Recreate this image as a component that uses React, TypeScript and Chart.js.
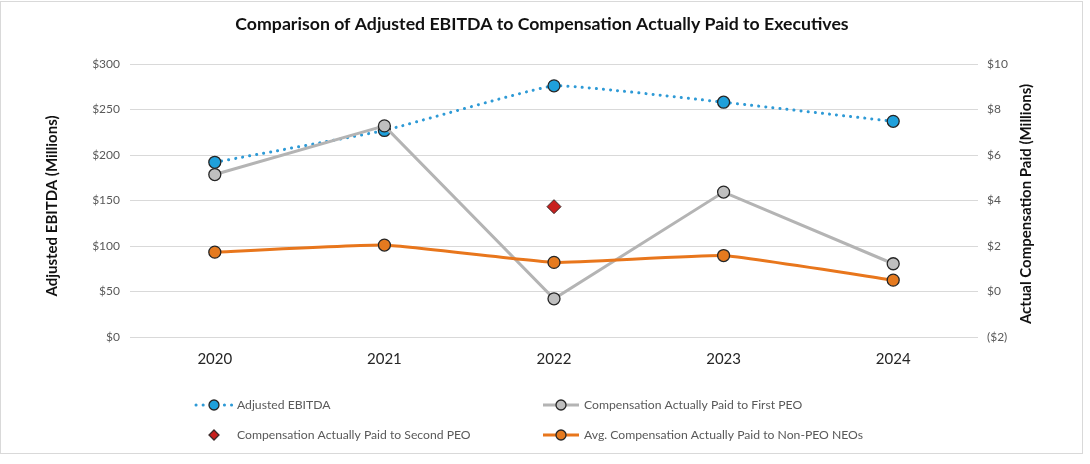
import React, { useEffect, useRef } from "react";
import { Chart, registerables } from "chart.js";

Chart.register(...registerables);

const years = ["2020", "2021", "2022", "2023", "2024"];
const adjustedEbitda = [192, 227, 276, 258, 237];
const firstPeoCap = [5.14, 7.28, -0.32, 4.37, 1.22];
const secondPeoCap = [null, null, 3.73, null, null];
const nonPeoCap = [1.73, 2.04, 1.28, 1.58, 0.5];

const leftTicks = { min: 0, max: 300, step: 50 };
const rightTicks = { min: -2, max: 10, step: 2 };

const chartTitle = "Comparison of Adjusted EBITDA to Compensation Actually Paid to Executives";
const leftAxisTitle = "Adjusted EBITDA (Millions)";
const rightAxisTitle = "Actual Compensation Paid (Millions)";
const seriesNames = [
  "Adjusted EBITDA",
  "Compensation Actually Paid to First PEO",
  "Compensation Actually Paid to Second PEO",
  "Avg. Compensation Actually Paid to Non-PEO NEOs",
];

const FONT = "Lato, 'Open Sans', sans-serif";

const decorPlugin = {
  id: "decor",
  afterDraw(chart: any) {
    const ctx = chart.ctx as CanvasRenderingContext2D;
    ctx.save();
    // Title
    ctx.fillStyle = "#111";
    ctx.font = `bold 17.7px ${FONT}`;
    ctx.textAlign = "center";
    ctx.textBaseline = "middle";
    ctx.fillText(chartTitle, 542, 24);

    // Axis titles
    ctx.font = `bold 15px ${FONT}`;
    ctx.fillStyle = "#111";
    ctx.save();
    ctx.translate(52, 206);
    ctx.rotate(-Math.PI / 2);
    ctx.fillText(leftAxisTitle, 0, 0);
    ctx.restore();
    ctx.save();
    ctx.translate(1026, 204);
    ctx.rotate(-Math.PI / 2);
    ctx.fillText(rightAxisTitle, 0, 0);
    ctx.restore();

    // Legend (2 columns x 2 rows)
    const colX = [196, 543];
    const rowY = [405, 435];
    chart.data.datasets.forEach((ds: any, i: number) => {
      const col = i % 2;
      const row = Math.floor(i / 2);
      const x0 = colX[col];
      const y = rowY[row];
      const mid = x0 + 18;
      if (ds.showLine !== false) {
        ctx.save();
        ctx.strokeStyle = ds.borderColor;
        ctx.lineWidth = ds.borderWidth;
        ctx.lineCap = ds.borderCapStyle || "butt";
        ctx.setLineDash(ds.borderDash || []);
        ctx.beginPath();
        ctx.moveTo(x0, y);
        ctx.lineTo(x0 + 36, y);
        ctx.stroke();
        ctx.restore();
      }
      ctx.save();
      ctx.fillStyle = ds.pointBackgroundColor;
      ctx.strokeStyle = ds.pointBorderColor;
      ctx.lineWidth = 1.3;
      ctx.beginPath();
      if (ds.pointStyle === "rectRot") {
        const r = 5;
        ctx.moveTo(mid, y - r);
        ctx.lineTo(mid + r, y);
        ctx.lineTo(mid, y + r);
        ctx.lineTo(mid - r, y);
        ctx.closePath();
      } else {
        ctx.arc(mid, y, 5, 0, Math.PI * 2);
      }
      ctx.fill();
      ctx.stroke();
      ctx.restore();

      ctx.fillStyle = "#595959";
      ctx.font = `12.2px ${FONT}`;
      ctx.textAlign = "left";
      ctx.textBaseline = "middle";
      ctx.fillText(ds.label, x0 + 41, y);
    });
    ctx.restore();
  },
};

export default function App() {
  const canvasRef = useRef<HTMLCanvasElement | null>(null);

  useEffect(() => {
    document.body.style.margin = "0";
    const canvas = canvasRef.current;
    if (!canvas) return;
    const chart = new Chart(canvas, {
      type: "line",
      data: {
        labels: years,
        datasets: [
          {
            label: seriesNames[0],
            data: adjustedEbitda,
            yAxisID: "y",
            borderColor: "#2E9AD6",
            borderWidth: 3,
            borderDash: [0.1, 7],
            borderCapStyle: "round",
            tension: 0.1,
            pointRadius: 6,
            pointHoverRadius: 6,
            pointBackgroundColor: "#1FA0DB",
            pointBorderColor: "#262626",
            pointBorderWidth: 1.3,
            order: 4,
          } as any,
          {
            label: seriesNames[1],
            data: firstPeoCap,
            yAxisID: "y1",
            borderColor: "#B4B4B4",
            borderWidth: 3,
            tension: 0,
            pointRadius: 6,
            pointHoverRadius: 6,
            pointBackgroundColor: "#BFBFBF",
            pointBorderColor: "#262626",
            pointBorderWidth: 1.3,
            order: 3,
          },
          {
            label: seriesNames[2],
            data: secondPeoCap,
            yAxisID: "y1",
            showLine: false,
            pointStyle: "rectRot",
            pointRadius: 7,
            pointHoverRadius: 7,
            pointBackgroundColor: "#C8201E",
            pointBorderColor: "#3a2a2a",
            pointBorderWidth: 1,
            borderColor: "#C8201E",
            order: 1,
          },
          {
            label: seriesNames[3],
            data: nonPeoCap,
            yAxisID: "y1",
            borderColor: "#E8761C",
            borderWidth: 3,
            tension: 0.1,
            pointRadius: 6,
            pointHoverRadius: 6,
            pointBackgroundColor: "#E57A1F",
            pointBorderColor: "#262626",
            pointBorderWidth: 1.3,
            order: 2,
          },
        ],
      },
      options: {
        responsive: false,
        animation: false,
        layout: { padding: { top: 64, left: 0, right: 0, bottom: 0 } },
        plugins: {
          legend: { display: false },
          title: { display: false },
          tooltip: { enabled: false },
        },
        scales: {
          x: {
            offset: true,
            grid: { display: false, drawTicks: false },
            border: { display: false },
            ticks: {
              padding: 13,
              color: "#262626",
              font: { family: FONT, size: 15 },
            },
            afterFit: (s: any) => {
              s.height = 127;
            },
          },
          y: {
            position: "left",
            min: leftTicks.min,
            max: leftTicks.max,
            grid: { color: "#D9D9D9", lineWidth: 1, drawTicks: false },
            border: { display: false },
            ticks: {
              stepSize: leftTicks.step,
              padding: 10,
              color: "#595959",
              font: { family: FONT, size: 12 },
              callback: (v: any) => `$${v}`,
            },
            afterFit: (s: any) => {
              s.width = 130;
            },
          },
          y1: {
            position: "right",
            min: rightTicks.min,
            max: rightTicks.max,
            grid: { display: false, drawTicks: false },
            border: { display: false },
            ticks: {
              stepSize: rightTicks.step,
              padding: 9,
              color: "#595959",
              font: { family: FONT, size: 12 },
              callback: (v: any) => (v < 0 ? `($${-v})` : `$${v}`),
            },
            afterFit: (s: any) => {
              s.width = 112;
            },
          },
        },
      },
      plugins: [decorPlugin],
    });
    return () => chart.destroy();
  }, []);

  return (
    <div style={{ position: "absolute", left: 0, top: 0, width: 1090, height: 464, background: "#fff" }}>
      <div
        style={{
          position: "absolute",
          left: 0,
          top: 1,
          width: 1083,
          height: 453,
          border: "1px solid #D9D9D9",
          boxSizing: "border-box",
        }}
      />
      <canvas
        ref={canvasRef}
        width={1090}
        height={464}
        style={{ position: "absolute", left: 0, top: 0, width: 1090, height: 464 }}
      />
    </div>
  );
}
